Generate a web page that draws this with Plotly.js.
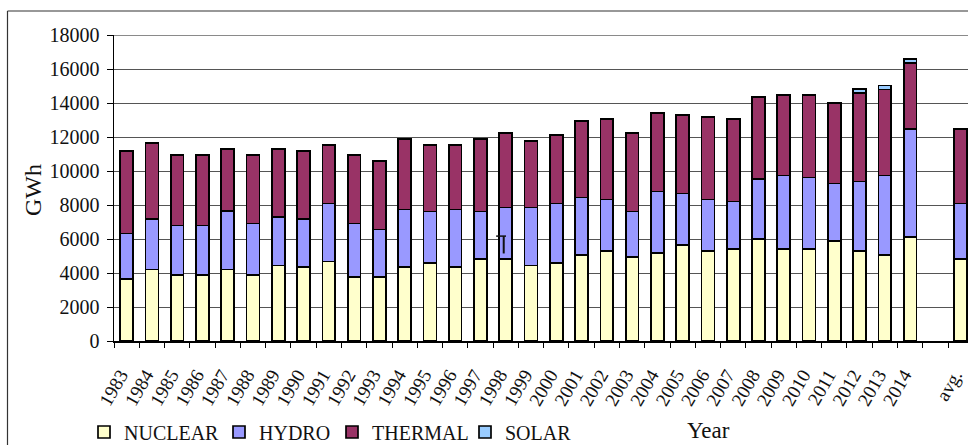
<!DOCTYPE html>
<html>
<head>
<meta charset="utf-8">
<script src="https://cdn.plot.ly/plotly-3.0.1.min.js"></script>
<style>
  html, body { margin: 0; padding: 0; background: #ffffff; }
  #chart { width: 968px; height: 445px; }
</style>
</head>
<body>
<div id="chart"></div>
<script>
// Categories (a blank slot separates the yearly bars from the average)
const categories = ['1983','1984','1985','1986','1987','1988','1989','1990','1991','1992',
  '1993','1994','1995','1996','1997','1998','1999','2000','2001','2002','2003','2004',
  '2005','2006','2007','2008','2009','2010','2011','2012','2013','2014',' ','avg.'];

// Stacked values in GWh
const nuclear = [3650,4210,3880,3880,4210,3880,4450,4370,4680,3760,
  3760,4370,4600,4370,4840,4840,4450,4600,5050,5290,4940,5170,
  5640,5290,5410,6000,5410,5410,5880,5290,5050,6110,null,4820];
const hydro = [2680,2960,2920,2920,3430,3040,2840,2800,3410,3150,
  2800,3370,3020,3370,2780,3020,3410,3490,3390,3040,2680,3630,
  3040,3040,2800,3510,4330,4210,3390,4090,4680,6350,null,3270];
const thermal = [4840,4470,4130,4130,3640,4020,4000,4000,3430,4020,
  4020,4130,3900,3780,4250,4370,3900,4020,4490,4720,4600,4600,
  4600,4840,4840,4840,4720,4840,4720,5190,5070,3880,null,4370];
const solar = [0,0,0,0,0,0,0,0,0,0,
  0,0,0,0,0,0,0,0,0,0,0,0,
  0,0,0,0,0,0,0,235,235,235,null,0];

// Axis tick values and labels
const yTickVals = [0,2000,4000,6000,8000,10000,12000,14000,16000,18000];
const yTickText = ['0','2000','4000','6000','8000','10000','12000','14000','16000','18000'];

// Stray "T" mark printed in the 1998 column of the original
const tMark = { category: '1998', low: 5150, high: 6170 };

const seriesNames = ['NUCLEAR','HYDRO','THERMAL','SOLAR'];
const seriesColors = ['#FFFFCC','#9999FF','#993366','#99CCFF'];
const seriesValues = [nuclear, hydro, thermal, solar];
const legendIds = ['legend','legend2','legend3','legend4'];
const legendXpx = [84, 219, 332, 465];

const W = 968, H = 445;
const traces = seriesValues.map((vals, i) => ({
  type: 'bar',
  name: seriesNames[i],
  x: categories,
  y: vals.map(v => (v === 0 ? null : v)),
  width: 0.51,
  marker: { color: seriesColors[i], line: { color: '#000000', width: 1.7 } },
  legend: legendIds[i],
  hoverinfo: 'x+y+name'
}));

const serif = 'Liberation Serif';

const legendBase = (xp) => ({
  orientation: 'h', xref: 'container', yref: 'container',
  x: xp / W, xanchor: 'left', y: (H - 432) / H, yanchor: 'middle',
  font: { family: serif, size: 20, color: '#111' },
  bgcolor: 'rgba(0,0,0,0)', borderwidth: 0, traceorder: 'normal'
});

// pixel helpers for paper coordinates
const plotL = 114, plotR = 968, plotT = 35, plotB = 341;
const px = (p) => (p - plotL) / (plotR - plotL);
const py = (p) => (plotB - p) / (plotB - plotT);

const tIdx = categories.indexOf(tMark.category);

const layout = {
  width: W, height: H, autosize: false,
  margin: { l: plotL, r: W - plotR, t: plotT, b: H - plotB, pad: 0, autoexpand: false },
  paper_bgcolor: '#ffffff', plot_bgcolor: '#ffffff',
  barmode: 'stack',
  showlegend: true,
  legend: legendBase(legendXpx[0]),
  legend2: legendBase(legendXpx[1]),
  legend3: legendBase(legendXpx[2]),
  legend4: legendBase(legendXpx[3]),
  font: { family: serif, color: '#111' },
  xaxis: {
    type: 'category',
    categoryorder: 'array', categoryarray: categories,
    range: [-0.5, 33.29],
    showgrid: false, zeroline: false, automargin: false,
    showline: true, linecolor: '#000', linewidth: 1.5,
    ticks: 'outside', tickson: 'boundaries', ticklen: 5, tickcolor: '#000', tickwidth: 1,
    tickangle: -60,
    ticklabelstandoff: 14,
    ticklabelshift: -6,
    tickfont: { family: serif, size: 19, color: '#111' },
    fixedrange: true
  },
  yaxis: {
    range: [0, 18000], automargin: false,
    tickvals: yTickVals, ticktext: yTickText,
    showgrid: true, gridcolor: '#555555', gridwidth: 1,
    zeroline: false,
    showline: true, linecolor: '#000', linewidth: 1.5,
    ticks: 'outside', ticklen: 6, tickcolor: '#000', tickwidth: 1,
    ticklabelstandoff: 3,
    tickfont: { family: serif, size: 20, color: '#111' },
    fixedrange: true
  },
  annotations: [
    { text: 'GWh', xref: 'paper', yref: 'paper', x: px(33), y: py(190), textangle: -90,
      xanchor: 'center', yanchor: 'middle', showarrow: false,
      font: { family: serif, size: 24, color: '#111' } },
    { text: 'Year', xref: 'paper', yref: 'paper', x: px(708), y: py(430),
      xanchor: 'center', yanchor: 'middle', showarrow: false,
      font: { family: serif, size: 23, color: '#111' } }
  ],
  shapes: [
    // outer frame (left and top edges visible)
    { type: 'line', xref: 'paper', yref: 'paper', x0: px(7.5), x1: px(7.5), y0: py(11), y1: py(460),
      line: { color: '#333', width: 1.2 } },
    { type: 'line', xref: 'paper', yref: 'paper', x0: px(7.5), x1: px(980), y0: py(11), y1: py(11),
      line: { color: '#333', width: 1.2 } },
    // lighter top border of the plot area
    { type: 'line', xref: 'paper', yref: 'y', x0: 0, x1: 1.02, y0: 18000, y1: 18000,
      line: { color: '#8a8a8a', width: 2 } },
    // stray T mark
    { type: 'line', xref: 'x', yref: 'y', x0: tIdx - 0.08, x1: tIdx - 0.08, y0: tMark.low, y1: tMark.high,
      line: { color: '#111', width: 2 } },
    { type: 'line', xref: 'x', yref: 'y', x0: tIdx - 0.38, x1: tIdx + 0.01, y0: tMark.high, y1: tMark.high,
      line: { color: '#111', width: 1.5 } }
  ]
};

Plotly.newPlot('chart', traces, layout, { staticPlot: true, displayModeBar: false });
</script>
</body>
</html>
